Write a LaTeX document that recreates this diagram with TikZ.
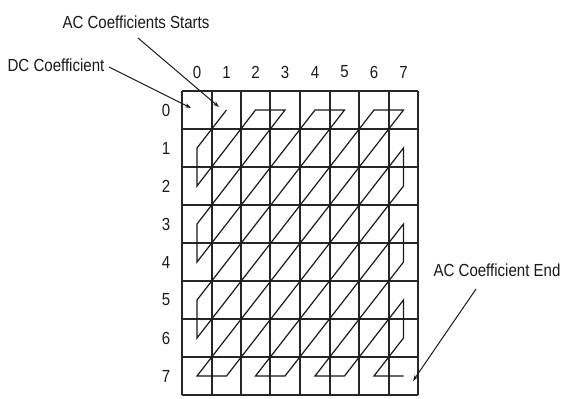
\documentclass[tikz,border=0pt]{standalone}
\usepackage{fontspec}
\setmainfont{Liberation Sans}[FakeStretch=0.86]
\usetikzlibrary{arrows.meta}
\definecolor{ink}{HTML}{1A1A1A}
\definecolor{gridc}{HTML}{262626}
\begin{document}
\begin{tikzpicture}[x=1pt,y=-1pt,
  lbl/.style={inner sep=0pt,text=ink,font=\fontsize{17.5}{20}\selectfont},
  gridline/.style={draw=gridc,line width=2pt},
  scan/.style={draw=ink,line width=1.2pt,line join=miter},
  pointer/.style={draw=ink,line width=1pt,-{Stealth[length=6pt,width=4pt]}}]
\useasboundingbox (0,0) rectangle (571,399);
\fill[white] (0,0) rectangle (571,399);
% grid lines (snapped to whole pixels)
\foreach \x in {182,212,241,270,300,330,359,389,418}{
  \draw[gridline] (\x,91) -- (\x,395);
}
\foreach \y in {91,129,167,205,243,281,319,357,395}{
  \draw[gridline] (182,\y) -- (418,\y);
}
% cell centres
\foreach \c/\x in {0/197,1/226.5,2/255.5,3/285,4/315,5/344.5,6/374,7/403.5}{
  \foreach \r in {0,...,7}{
    \coordinate (c\r\c) at (\x,110+38*\r);
  }
  \node[lbl] (col\c) at (\x,72) {\c};
  \node[lbl] (row\c) at (166,110+38*\c) {\c};
}
% zigzag scan
\draw[scan] (c01) -- (c10) -- (c20) -- (c02) -- (c03) -- (c30) -- (c40) -- (c04)
  -- (c05) -- (c50) -- (c60) -- (c06) -- (c07) -- (c70) -- (c71) -- (c17)
  -- (c27) -- (c72) -- (c73) -- (c37) -- (c47) -- (c74) -- (c75) -- (c57)
  -- (c67) -- (c76) -- (c77);
% texts
\node[lbl] (acs) at (136,22) {AC Coefficients Starts};
\node[lbl] (dc) at (56,65) {DC Coefficient};
\node[lbl] (ace) at (497,270) {AC Coefficient End};
% pointers
\coordinate (dcs) at (109,67);
\coordinate (dct) at (191,108);
\coordinate (acss) at (138,38);
\coordinate (acst) at (219,107);
\coordinate (aces) at (476,289);
\coordinate (acet) at (413,381);
\draw[pointer] (dcs) -- (dct);
\draw[pointer] (acss) -- (acst);
\draw[pointer] (aces) -- (acet);
\end{tikzpicture}
\end{document}
